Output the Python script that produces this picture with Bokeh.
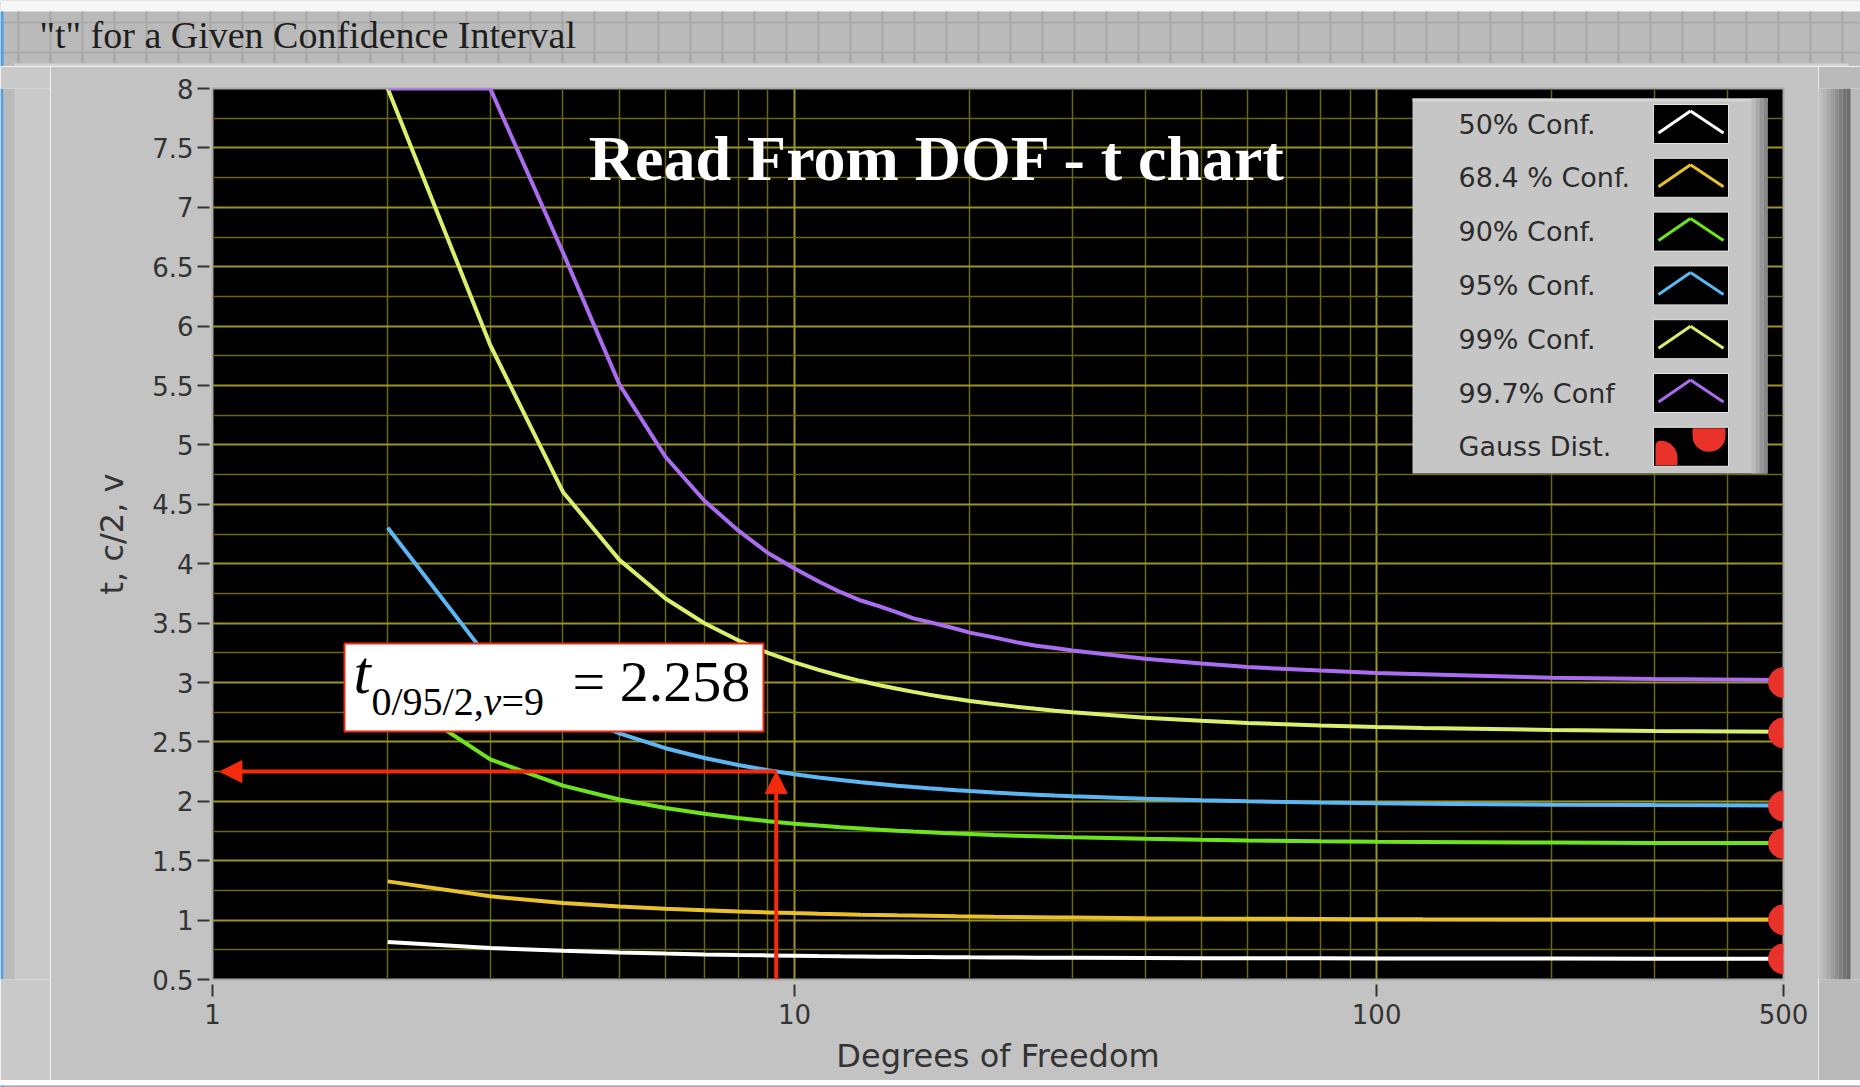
import numpy as np
from bokeh.plotting import figure
from bokeh.layouts import column, row
from bokeh.models import Range1d, FixedTicker, Label, BoxAnnotation, Arrow, NormalHead
from bokeh.core.properties import value
from bokeh.embed import file_html
from bokeh.resources import INLINE

# ---------------- data ----------------
dof = [2, 3, 4, 5, 6, 7, 8, 9, 10, 11, 12, 13, 14, 15, 16, 17, 18, 19, 20,
       22, 24, 26, 28, 30, 40, 50, 60, 80, 100, 120, 200, 300, 500]
t50 = [0.816, 0.765, 0.741, 0.727, 0.718, 0.711, 0.706, 0.703, 0.700, 0.697, 0.695, 0.694, 0.692,
       0.691, 0.690, 0.689, 0.688, 0.688, 0.687,
       0.686, 0.685, 0.684, 0.683, 0.683, 0.681, 0.679, 0.679, 0.678, 0.677, 0.677, 0.676, 0.675, 0.675]
t684 = [1.326, 1.200, 1.144, 1.114, 1.095, 1.082, 1.072, 1.065, 1.059, 1.054, 1.050, 1.046, 1.043,
        1.040, 1.038, 1.036, 1.034, 1.032, 1.031,
        1.028, 1.026, 1.024, 1.022, 1.021, 1.016, 1.013, 1.011, 1.009, 1.008, 1.007, 1.005, 1.004, 1.004]
t90 = [2.920, 2.353, 2.132, 2.015, 1.943, 1.895, 1.860, 1.833, 1.812, 1.796, 1.782, 1.771, 1.761,
       1.753, 1.746, 1.740, 1.734, 1.729, 1.725,
       1.717, 1.711, 1.706, 1.701, 1.697, 1.684, 1.676, 1.671, 1.664, 1.660, 1.658, 1.653, 1.650, 1.648]
t95 = [4.303, 3.182, 2.776, 2.571, 2.447, 2.365, 2.306, 2.262, 2.228, 2.201, 2.179, 2.160, 2.145,
       2.131, 2.120, 2.110, 2.101, 2.093, 2.086,
       2.074, 2.064, 2.056, 2.048, 2.042, 2.021, 2.009, 2.000, 1.990, 1.984, 1.980, 1.972, 1.968, 1.965]
t99 = [8.000, 5.841, 4.604, 4.032, 3.707, 3.499, 3.355, 3.250, 3.169, 3.106, 3.055, 3.012, 2.977,
       2.947, 2.921, 2.898, 2.878, 2.861, 2.845,
       2.819, 2.797, 2.779, 2.763, 2.750, 2.704, 2.678, 2.660, 2.639, 2.626, 2.617, 2.601, 2.592, 2.586]
t997 = [8.00, 8.00, 6.62, 5.51, 4.90, 4.53, 4.28, 4.09, 3.96, 3.85, 3.76, 3.69, 3.64,
        3.59, 3.54, 3.51, 3.48, 3.45, 3.42,
        3.38, 3.34, 3.31, 3.29, 3.27, 3.20, 3.16, 3.13, 3.10, 3.08, 3.07, 3.04, 3.03, 3.02]
gauss_dof = [500, 500, 500, 500, 500, 500]
gauss_t = [0.674, 1.003, 1.645, 1.960, 2.576, 3.000]

series_names = ["50% Conf.", "68.4 % Conf.", "90% Conf.", "95% Conf.", "99% Conf.", "99.7% Conf"]
series_values = [t50, t684, t90, t95, t99, t997]
series_colors = ["#ffffff", "#e8c12c", "#6ee41e", "#5cb6f2", "#d9f06e", "#aa6cf0"]
gauss_name = "Gauss Dist."
gauss_color = "#e8322a"

x_ticks = [1, 10, 100, 500]
x_tick_labels = ["1", "10", "100", "500"]
y_ticks = [0.5, 1, 1.5, 2, 2.5, 3, 3.5, 4, 4.5, 5, 5.5, 6, 6.5, 7, 7.5, 8]
y_tick_labels = ["0.5", "1", "1.5", "2", "2.5", "3", "3.5", "4", "4.5", "5", "5.5", "6", "6.5", "7", "7.5", "8"]

window_title = '"t" for a Given Confidence Interval'
headline = "Read From DOF - t chart"
read_dof = 9.3        # where the reading arrow is drawn
read_t = 2.25

# ---------------- page geometry (canvas pixels) ----------------
W, H = 1860, 1087
TOP_H = 66            # window title band
BOT_H = 7
LEFT_W = 50
RIGHT_W = 42
MID_H = H - TOP_H - BOT_H
MAIN_W = W - LEFT_W - RIGHT_W
FL, FT, FW, FH = 212, 88, 1571, 891      # plot frame in page coordinates
XMIN, XMAX, YMIN, YMAX = 1, 500, 0.5, 8


def dx(cx):
    return 10 ** ((cx - FL) / FW * np.log10(XMAX / XMIN)) * XMIN


def dy(cy):
    return YMAX - (cy - FT) / FH * (YMAX - YMIN)


def deco(w, h, bg):
    f = figure(width=w, height=h, x_range=Range1d(0, w), y_range=Range1d(h, 0),
               x_axis_location=None, y_axis_location=None, min_border=0,
               output_backend="svg", toolbar_location=None)
    f.grid.visible = False
    f.outline_line_color = None
    f.background_fill_color = bg
    f.border_fill_color = bg
    return f


# ---------------- window decorations ----------------
top = deco(W, TOP_H, "#bababa")
top.quad(left=0, right=W, top=0, bottom=11, fill_color="#f6f6f6", line_color=None)
vx = list(range(1617 % 32, W, 32))
top.quad(left=vx, right=[v + 2 for v in vx], top=11, bottom=63, fill_color="#a7a7a7", line_color=None)
top.quad(left=0, right=W, top=[21, 51], bottom=[23, 53], fill_color="#a9a9a9", line_color=None)
top.quad(left=14, right=1848, top=63, bottom=TOP_H, fill_color="#d3d3d3", line_color=None)
top.quad(left=0, right=3, top=11, bottom=TOP_H, fill_color="#4f9fe6", line_color=None)
top.text(x=[39], y=[34], text=[window_title], text_font=value("Liberation Serif"),
         text_font_size="38px", text_color="#1e1e1e", text_baseline="alphabetic")

left = deco(LEFT_W, MID_H, "#cacaca")
left.quad(left=0, right=3, top=0, bottom=MID_H, fill_color="#4f9fe6", line_color=None)
left.quad(left=3, right=14, top=0, bottom=MID_H, fill_color="#bababa", line_color=None)

right = deco(RIGHT_W, MID_H, "#bababa")
shades = ["#c0c0c0", "#b6b6b6", "#aaaaaa", "#9d9d9d", "#8f8f8f", "#818181", "#747474", "#6c6c6c"]
right.quad(left=[4 * i for i in range(8)], right=[4 * i + 4 for i in range(8)], top=0, bottom=MID_H,
           fill_color=shades, line_color=None)

bottom = deco(W, BOT_H, "#b8b8b8")
bottom.quad(left=0, right=W, top=0, bottom=1, fill_color="#9a9a9a", line_color=None)
bottom.quad(left=0, right=3, top=0, bottom=BOT_H, fill_color="#4f9fe6", line_color=None)

# ---------------- main chart ----------------
p = figure(width=MAIN_W, height=MID_H, frame_width=FW, frame_height=FH,
           x_axis_type="log", x_range=Range1d(XMIN, XMAX), y_range=Range1d(YMIN, YMAX),
           min_border_left=FL - LEFT_W, min_border_right=MAIN_W - (FL - LEFT_W) - FW,
           min_border_top=FT - TOP_H, min_border_bottom=MID_H - (FT - TOP_H) - FH,
           output_backend="svg", toolbar_location=None)
p.background_fill_color = "black"
p.border_fill_color = "#c3c3c3"
p.outline_line_color = "#a8a8a8"
p.outline_line_width = 2

p.xaxis.ticker = FixedTicker(ticks=x_ticks)
p.xaxis.major_label_overrides = {t: s for t, s in zip(x_ticks, x_tick_labels)}
p.yaxis.ticker = FixedTicker(ticks=y_ticks)
p.yaxis.major_label_overrides = {t: s for t, s in zip(y_ticks, y_tick_labels)}
p.xaxis.axis_label = "Degrees of Freedom"
p.yaxis.axis_label = "t, c/2, v"
for ax in (p.xaxis[0], p.yaxis[0]):
    ax.axis_line_color = None
    ax.major_tick_line_color = "#333333"
    ax.major_tick_line_width = 2
    ax.minor_tick_line_color = None
    ax.major_label_text_font = "DejaVu Sans"
    ax.major_label_text_font_size = "26px"
    ax.major_label_text_color = "#333333"
    ax.axis_label_text_font = "DejaVu Sans"
    ax.axis_label_text_font_size = "32px"
    ax.axis_label_text_font_style = "normal"
    ax.axis_label_text_color = "#333333"
p.yaxis.major_tick_in = -3
p.yaxis.major_tick_out = 15
p.yaxis.major_label_standoff = 4
p.xaxis.major_tick_in = -5
p.xaxis.major_tick_out = 17
p.xaxis.major_label_standoff = 7
p.yaxis.axis_label_standoff = 18
p.xaxis.axis_label_standoff = 10

x_minor = [2, 3, 4, 5, 6, 7, 8, 9, 20, 30, 40, 50, 60, 70, 80, 90, 200, 300, 400]
y_minor = [0.75 + 0.5 * i for i in range(15)]
p.xgrid.ticker = FixedTicker(ticks=[10, 100], minor_ticks=x_minor)
p.ygrid.ticker = FixedTicker(ticks=y_ticks, minor_ticks=y_minor)
for g in (p.xgrid[0], p.ygrid[0]):
    g.grid_line_color = "#9a9426"
    g.grid_line_width = 2
    g.minor_grid_line_color = "#6a6617"
    g.minor_grid_line_width = 1.5

for vals, col in zip(series_values, series_colors):
    p.line(dof, vals, line_color=col, line_width=4)
p.scatter(gauss_dof, gauss_t, size=30, fill_color=gauss_color, line_color=gauss_color)


def box(l, r, t, b, fill, line=None, lw=1, radius=None):
    kw = dict(left=dx(l), right=dx(r), top=dy(t), bottom=dy(b),
              fill_color=fill, fill_alpha=1.0,
              line_color=line, line_alpha=1.0 if line else 0.0, line_width=lw)
    if radius is not None:
        kw["border_radius"] = radius
    p.add_layout(BoxAnnotation(**kw))


def seg(x0, y0, x1, y1, col, lw):
    p.add_layout(Arrow(x_start=dx(x0), y_start=dy(y0), x_end=dx(x1), y_end=dy(y1),
                       end=None, line_color=col, line_width=lw))


def label(cx, cy, text, size, style="normal", color="black", align="left", font="Liberation Serif"):
    # alphabetic baseline at page y = cy
    p.add_layout(Label(x=dx(cx), y=dy(cy - 0.36 * size), text=text, text_font=font,
                       text_font_style=style, text_font_size=f"{size}px", text_color=color,
                       text_align=align, text_baseline="alphabetic"))


# ---------------- legend ----------------
LG_L, LG_R, LG_T, LG_B = 1412, 1767, 98, 473
box(LG_L, LG_R, LG_T, LG_B, "#c6c6c6")
box(LG_L, LG_R, LG_T, LG_T + 3, "#d6d6d6")
for i, c in enumerate(["#bababa", "#a8a8a8", "#969696", "#858585"]):
    box(LG_R - 16 + 4 * i, LG_R - 12 + 4 * i, LG_T, LG_B, c)
row0, drow = 123.5, 53.8
SW_L, SW_R = 1653, 1728
labels = series_names + [gauss_name]
for i, name in enumerate(labels):
    c = row0 + drow * i
    p.add_layout(Label(x=dx(1458), y=dy(c), text=name, text_font="DejaVu Sans",
                       text_font_size="27px", text_color="#2b2b2b", text_baseline="middle"))
    box(SW_L, SW_R, c - 19.5, c + 19.5, "#000000", "#e4e4e4", 1)
    if i < len(series_colors):
        col = series_colors[i]
        seg(1658, c + 9, 1690, c - 13, col, 3)
        seg(1690, c - 13, 1723, c + 9, col, 3)
    else:
        box(1655, 1677, c - 6, c + 18.5, gauss_color,
            radius=dict(top_left=6, top_right=20, bottom_right=0, bottom_left=0))
        box(1692, 1725, c - 18.5, c + 5, gauss_color,
            radius=dict(top_left=0, top_right=0, bottom_right=16, bottom_left=16))

# ---------------- headline ----------------
label(937, 181, headline, 64, style="bold", color="white", align="center")

# ---------------- reading arrows ----------------
RED = "#f52a0c"
p.add_layout(Arrow(x_start=read_dof, y_start=YMIN, x_end=read_dof, y_end=read_t,
                   line_color=RED, line_width=4,
                   end=NormalHead(size=22, fill_color=RED, line_color=RED)))
p.add_layout(Arrow(x_start=read_dof, y_start=read_t, x_end=1.03, y_end=read_t,
                   line_color=RED, line_width=4,
                   end=NormalHead(size=22, fill_color=RED, line_color=RED)))

# ---------------- annotation box ----------------
box(344, 763, 643, 731, "#ffffff", "#ec2a14", 2)
label(353, 694, "t", 62, style="italic")
label(371, 715, "0/95/2,", 40)
label(483, 715, "v", 40, style="italic")
label(501, 715, "=9", 40)
label(572, 702, "= 2.258", 58)

layout = column(top, row(left, p, right), bottom)
open("out.html", "w").write(file_html(layout, INLINE))
